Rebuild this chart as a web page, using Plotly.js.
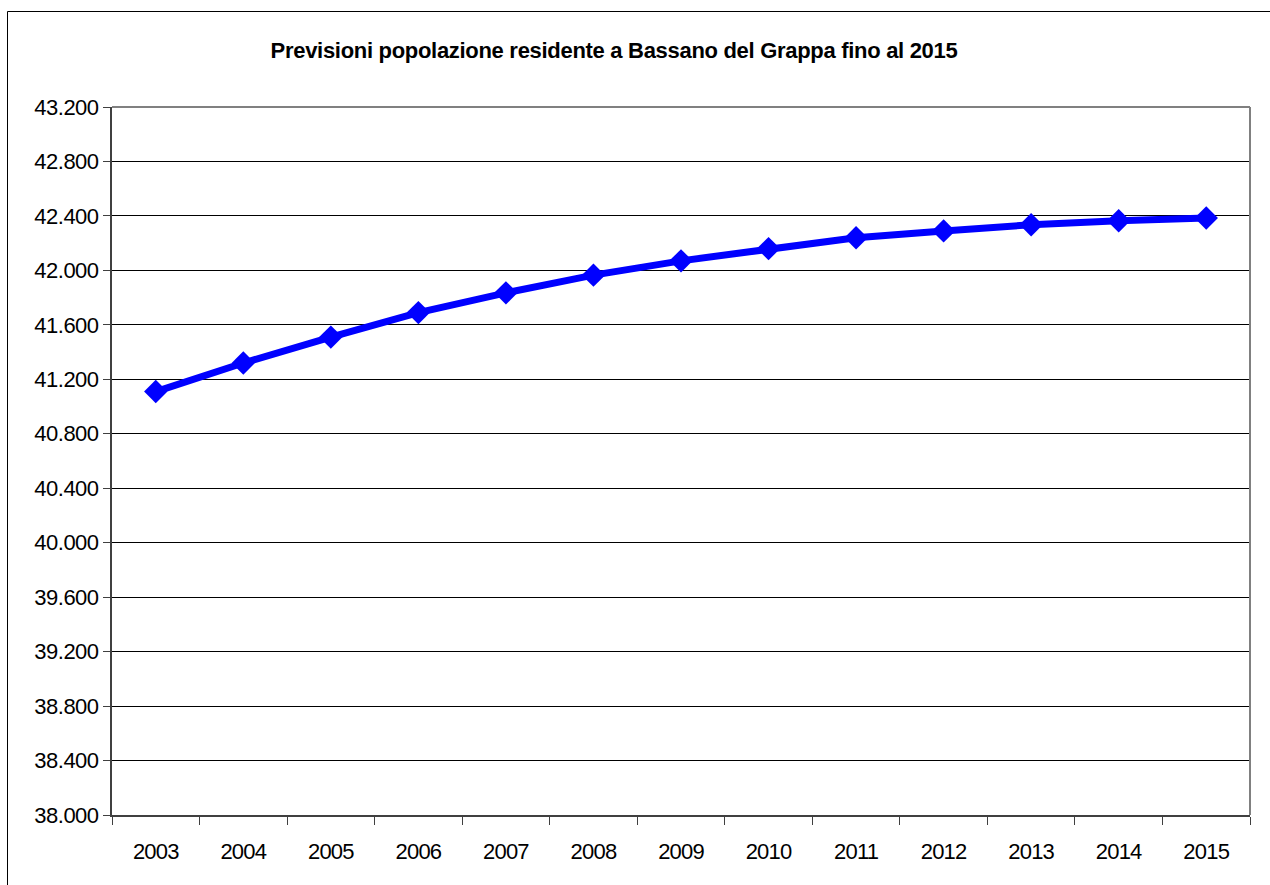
<!DOCTYPE html>
<html>
<head>
<meta charset="utf-8">
<script src="https://cdn.plot.ly/plotly-3.0.1.min.js"></script>
<style>
  html, body { margin: 0; padding: 0; background: #fff; }
  #chart { width: 1270px; height: 885px; }
  #chart .xtick text { letter-spacing: -0.8px; }
  #chart .ytick text { letter-spacing: -0.5px; }
  #chart .gtitle { letter-spacing: -0.3px; }
</style>
</head>
<body>
<div id="chart"></div>
<script>
const years = ['2003','2004','2005','2006','2007','2008','2009','2010','2011','2012','2013','2014','2015'];
const population = [41110, 41320, 41510, 41690, 41835, 41965, 42070, 42160, 42240, 42290, 42335, 42365, 42385];
const chartTitle = 'Previsioni popolazione residente a Bassano del Grappa fino al 2015';

const blue = '#0000FF';
const traces = [
  {
    x: years, y: population, type: 'scatter', mode: 'lines+markers',
    line: { color: blue, width: 7 },
    marker: { symbol: 'diamond', size: 18, color: blue, line: { width: 0 } },
    hoverinfo: 'skip', showlegend: false
  }
];

const layout = {
  width: 1270, height: 885,
  margin: { l: 112, r: 20, t: 107, b: 70, pad: 0 },
  paper_bgcolor: '#ffffff', plot_bgcolor: '#ffffff',
  separators: ',.',
  font: { family: '"Liberation Sans", Arial, sans-serif', color: '#000000', size: 22 },
  title: {
    text: '<b>' + chartTitle + '</b>',
    font: { family: '"Liberation Sans", Arial, sans-serif', size: 22, color: '#000000' },
    x: 614 / 1270, xref: 'container', xanchor: 'center',
    y: 1 - 50 / 885, yref: 'container', yanchor: 'middle'
  },
  xaxis: {
    type: 'category', range: [-0.5, 12.5],
    showgrid: false, zeroline: false,
    showline: true, linecolor: '#404040', linewidth: 2,
    ticks: 'outside', tickson: 'boundaries', ticklen: 8, tickcolor: '#404040', tickwidth: 1,
    ticklabelstandoff: 16,
    tickfont: { size: 22, color: '#000000' },
    fixedrange: true
  },
  yaxis: {
    range: [38000, 43200], dtick: 400, tick0: 38000,
    tickformat: ',d',
    showgrid: true, gridcolor: '#000000', gridwidth: 1,
    zeroline: false,
    showline: true, linecolor: '#404040', linewidth: 2,
    ticks: 'outside', ticklen: 7, tickcolor: '#404040', tickwidth: 1,
    tickfont: { size: 22, color: '#000000' },
    fixedrange: true
  },
  shapes: [
    { type: 'line', xref: 'paper', yref: 'paper', x0: 0, x1: 1, y0: 1, y1: 1,
      line: { color: '#808080', width: 2 } },
    { type: 'line', xref: 'paper', yref: 'paper', x0: 1, x1: 1, y0: 0, y1: 1,
      line: { color: '#808080', width: 2 } },
    { type: 'rect', xref: 'paper', yref: 'paper',
      x0: (7.5 - 112) / 1138, x1: 1.2, y0: -0.3, y1: 1 + (107 - 11.5) / 708,
      line: { color: '#000000', width: 1 }, fillcolor: 'rgba(0,0,0,0)', layer: 'below' }
  ]
};

Plotly.newPlot('chart', traces, layout, { displayModeBar: false, staticPlot: true });
</script>
</body>
</html>
